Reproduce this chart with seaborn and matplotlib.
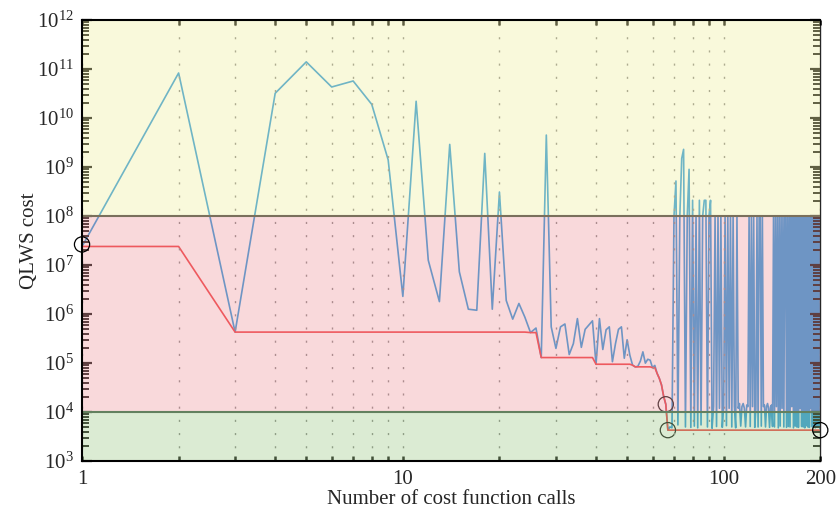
"""
QLWS cost per cost-function call (log-log) with the running best value.
"""

import matplotlib
matplotlib.use('Agg')
import matplotlib.pyplot as plt
import numpy as np
import seaborn as sns

# cost of each call, calls 1..67 (search phase)
cost_search = [
    2.4e7, 8.3e10, 4.3e5, 3.2e10, 1.4e11, 4.3e10, 5.7e10, 1.9e10, 1.4e9, 2.3e6,
    2.2e10, 1.26e7, 1.8e6, 2.9e9, 7.3e6, 1.26e6, 1.2e6, 1.9e9, 1.26e6, 3.1e8,
    1.9e6, 7.9e5, 1.65e6, 8.7e5, 4.2e5, 5.2e5, 1.3e5, 4.5e9, 5.5e5, 2.0e5,
    5.5e5, 6.3e5, 1.5e5, 2.5e5, 8.1e5, 2.1e5, 4.9e5, 6.0e5, 7.3e5, 9.5e4,
    8.1e5, 1.9e5, 4.8e5, 5.5e5, 1.07e5, 2.5e5, 4.9e5, 5.5e5, 1.26e5, 3.0e5,
    1.45e5, 9.1e4, 8.4e4, 8.6e4, 1.1e5, 1.7e5, 1.0e5, 1.2e5, 1.15e5, 8.1e4,
    9.0e4, 6.2e4, 4.9e4, 3.6e4, 2.1e4, 1.45e4, 4.3e3,
]

# cost of each call, calls 68..200 (oscillating phase)
cost_oscillating = [
    5.0e3, 4.8e3, 1e8, 5.2e8, 5.5e3, 1e8, 1.5e9, 2.3e9, 5.0e3, 1e8,
    9.0e8, 4.9e3, 2.1e8, 5.2e3, 1e8, 4.8e3, 2.1e8, 5.5e3, 1e8, 2.1e8,
    2.1e8, 5.0e3, 1e8, 2.1e8, 4.7e3, 1.3e4, 1e8, 5.1e3, 1e8, 1.2e4,
    1e8, 4.9e3, 1.4e4, 1e8, 5.3e3, 1e8, 1.2e4, 1e8, 5.0e3, 1e8,
    1.3e4, 4.8e3, 1e8, 1.2e4, 1.5e4, 5.2e3, 1.3e4, 1.5e4, 1.2e4, 5.0e3,
    1.4e4, 1.3e4, 1e8, 5.1e3, 1e8, 1.3e4, 1e8, 4.9e3, 1.2e4, 1e8,
    5.0e3, 1e8, 1e8, 5.2e3, 1e8, 1.3e4, 1.4e4, 5.0e3, 1.3e4, 1.5e4,
    1.2e4, 4.9e3, 1.3e4, 1.4e4, 5.1e3, 1e8, 5.0e3, 1e8, 1.3e4, 1e8,
    4.8e3, 1e8, 5.2e3, 1e8, 1.2e4, 1e8, 5.0e3, 1e8, 1e8, 4.9e3,
    1e8, 5.1e3, 1e8, 5.0e3, 1e8, 1.3e4, 1e8, 4.8e3, 1e8, 5.2e3,
    1e8, 5.0e3, 1e8, 4.9e3, 1e8, 1.2e4, 1e8, 5.1e3, 1e8, 5.0e3,
    1e8, 4.8e3, 1e8, 5.3e3, 1e8, 5.0e3, 1e8, 4.9e3, 1e8, 1.2e4,
    1e8, 5.0e3, 1e8, 5.1e3, 1e8, 4.8e3, 1e8, 5.0e3, 1e8, 5.2e3,
    1e8, 4.9e3, 4.5e3,
]

# cost regions: (lower, upper, colour)
bands = [
    (1e8, 1e12, '#F2F0A7'),
    (1e4, 1e8, '#F0A0A5'),
    (1e3, 1e4, '#A7CD91'),
]
band_edges = [(1e8, '#7a705c'), (1e4, '#63805f')]

# highlighted calls
marked_under = [66, 67]
marked_over = [1, 200]

x_ticks = [1, 10, 100, 200]
y_ticks = [1e3, 1e4, 1e5, 1e6, 1e7, 1e8, 1e9, 1e10, 1e11, 1e12]

cost = np.array(cost_search + cost_oscillating)
calls = np.arange(1, len(cost) + 1)
best = np.minimum.accumulate(cost)

sns.set_style('ticks')
plt.rcParams['font.family'] = ['Liberation Serif', 'DejaVu Serif']
plt.rcParams['mathtext.fontset'] = 'custom'
plt.rcParams['mathtext.rm'] = 'Liberation Serif'

fig = plt.figure(figsize=(8.37, 5.13), dpi=100)
ax = fig.add_axes([0.098, 0.101, 0.882, 0.860])
ax.set_xscale('log')
ax.set_yscale('log')

sns.lineplot(x=calls, y=cost, ax=ax, color='#198ed9', linewidth=1.2, zorder=2)
sns.lineplot(x=calls, y=best, ax=ax, color='#ee2b30', linewidth=1.2, zorder=2.2)

# circles below the tinted bands
idx = np.array(marked_under) - 1
ax.scatter(calls[idx], best[idx], s=120, facecolors='none', edgecolors='black',
           linewidths=0.9, zorder=2.3)
idx = np.array(marked_over) - 1
ax.scatter(calls[idx], best[idx] * np.array([1.1, 1.0]), s=120, facecolors='none',
           edgecolors='black', linewidths=0.9, zorder=6, clip_on=False)

# translucent bands on top of the lines, ticks and grid
for low, high, color in bands:
    ax.axhspan(low, high, color=color, alpha=0.4, lw=0, zorder=3)
for level, color in band_edges:
    ax.axhline(level, color=color, linewidth=1.5, zorder=4)

ax.set_xlim(1, 200)
ax.set_ylim(1e3, 1e12)
ax.set_xticks(x_ticks)
ax.set_xticklabels([str(t) for t in x_ticks])
ax.yaxis.set_major_locator(matplotlib.ticker.FixedLocator(y_ticks))
ax.yaxis.set_major_formatter(matplotlib.ticker.LogFormatterMathtext())
ax.yaxis.set_minor_locator(matplotlib.ticker.LogLocator(base=10, subs=np.arange(2, 10),
                                                        numticks=20))
ax.yaxis.set_minor_formatter(matplotlib.ticker.NullFormatter())
ax.xaxis.set_minor_locator(matplotlib.ticker.LogLocator(base=10, subs=np.arange(2, 10),
                                                        numticks=20))
ax.xaxis.set_minor_formatter(matplotlib.ticker.NullFormatter())

ax.grid(True, axis='x', which='both', color='#808080', linewidth=1.0,
        linestyle=(0, (1.5, 8)))
ax.set_axisbelow(False)
ax.xaxis.set_zorder(2.5)
ax.yaxis.set_zorder(2.5)

ax.tick_params(which='both', direction='in', top=True, right=True, labelsize=15,
               color='black')
ax.tick_params(axis='y', which='major', length=7, width=1.6, pad=6)
ax.tick_params(axis='y', which='minor', length=5, width=1.4)
ax.tick_params(axis='x', which='major', length=3.5, width=1.8, pad=6)
ax.tick_params(axis='x', which='minor', length=3.5, width=1.8)

for side in ['left', 'bottom', 'top']:
    ax.spines[side].set_linewidth(1.5)
    ax.spines[side].set_color('black')
    ax.spines[side].set_zorder(5)
ax.spines['right'].set_linewidth(1.0)
ax.spines['right'].set_zorder(2.5)

ax.set_xlabel('Number of cost function calls', fontsize=15, labelpad=1)
ax.set_ylabel('QLWS cost', fontsize=15, labelpad=-2)

plt.savefig('out.png', dpi=100)
plt.close()
